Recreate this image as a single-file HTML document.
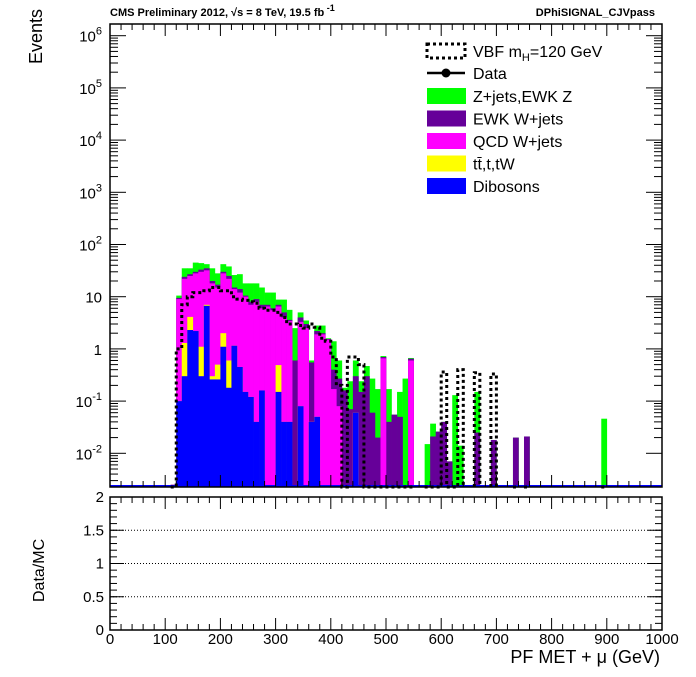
<!DOCTYPE html>
<html><head><meta charset="utf-8"><style>
body{margin:0;background:#fff;}
svg text{font-family:"Liberation Sans",sans-serif;}
</style></head><body>
<svg id="c" width="696" height="672" xmlns="http://www.w3.org/2000/svg"></svg>
<script>
// bin low edges (GeV), width 10
const bins=[110,120,130,140,150,160,170,180,190,200,210,220,230,240,250,260,270,280,290,300,310,320,330,340,350,360,370,380,390,400,410,420,430,440,450,460,470,480,490,500,510,520,530,540,570,580,590,600,610,620,630,660,690,730,750,890];
// cumulative stack tops per bin
const dibosonTop=[0,0.1,0.3,2.3,2.2,0.3,6.7,0.26,0.26,1.1,0.18,1.15,0.45,0.15,0.12,0.04,0.16,0,0,0.15,0.04,0.04,0,0.08,0,0.04,0.05,0,0,0,0,0,0,0.06,0,0,0,0,0,0,0,0,0,0,0,0,0,0,0,0,0,0,0,0,0,0];
const ttbarTop=[0,0.1,1.3,4.1,2.2,1.1,7,0.3,0.5,2,0.6,1.15,0.45,0.15,0.12,0.04,0.16,0,0,0.49,0.04,0.04,0,0.08,0,0.04,0.05,0,0,0,0,0,0,0.06,0,0,0,0,0,0,0,0,0,0,0,0,0,0,0,0,0,0,0,0,0,0];
const qcdWTop=[0.0025,9,22,25,28,30,32,18,15,28,22,14,12,10,7,8,6,6.5,5.5,6.5,4,3.4,0,3.3,2.5,0.04,1.9,1.9,1.5,0.17,0.08,0,0,0.06,0,0,0,0,0.66,0,0,0,0,0.6,0,0,0,0,0,0,0,0,0,0,0,0];
const ewkWTop=[0.0025,9.5,24,27,30,33,35,20,17,30,25,15,14,10.5,8,9,7,7,6,7,5,3.6,0.6,4,3,0.55,2.2,2.0,1.55,0.4,0.27,0.16,0.07,0.3,0.15,0.3,0.06,0.02,0.7,0.04,0.055,0.05,0,0.65,0,0.021,0.026,0.04,0.007,0,0,0.025,0.018,0.02,0.021,0];
const zjetsTop=[0.0025,10.5,35,35,45,44,42,35,28,42,38,26,27,18,18,18,15,12,12,8.8,8.8,5.6,2.5,5,3.5,0.6,2.8,2.8,1.6,1.4,0.6,0.18,0.24,0.6,0.24,0.47,0.27,0.17,0.73,0.17,0.055,0.15,0.27,0.67,0.015,0.037,0.026,0.04,0.007,0.13,0.014,0.15,0.018,0.02,0.021,0.046];
const vbf=[0,1,7,10,12,12,13,15,15,13,13,10,9,8.5,8,7.5,6,5.5,5.5,5,4,3,3,2.8,2.5,3,2.6,1.6,1.4,0.7,0.2,0,0.7,0.7,0.5,0,0,0,0,0,0,0,0,0,0,0,0,0.36,0,0,0.4,0.35,0.33,0,0,0];
const yTicks=[6,5,4,3,2,1,0,-1,-2];
const xTicks=[0,100,200,300,400,500,600,700,800,900,1000];
const ratioTicks=[0,0.5,1,1.5,2];

const NS="http://www.w3.org/2000/svg";
const svg=document.getElementById('c');
const L=110,R=662,T=24,B=487,RT=497,RB=630;
const X=g=>L+(g/1000)*(R-L);
const Ylog=v=>{const lv=Math.log10(Math.max(v,1e-4));return Math.min(B,35.7+(6-lv)*52.2);};
const YR=v=>RB-(v/2)*(RB-RT);
function mk(tag,a,txt){const e=document.createElementNS(NS,tag);for(const k in a)e.setAttribute(k,a[k]);if(txt!==undefined)e.textContent=txt;svg.appendChild(e);return e;}

const layers=[[zjetsTop,'#00ff00','zjets'],[ewkWTop,'#660099','ewk-wjets'],[qcdWTop,'#ff00ff','qcd-wjets'],[ttbarTop,'#ffff00','ttbar'],[dibosonTop,'#0000ff','dibosons']];
layers.forEach(([arr,col,nm])=>{
  bins.forEach((g,i)=>{
    if(arr[i]<=0)return;
    const y=Ylog(arr[i]);
    const r=mk('rect',{x:X(g),y:y,width:X(g+10)-X(g)+0.3,height:B-y,fill:col});
    
    
  });
});
let bl=mk('line',{x1:L,y1:B-1,x2:R,y2:B-1,stroke:'#0000ff','stroke-width':2});

let d='';
bins.forEach((g,i)=>{
  const y=vbf[i]>0?Ylog(vbf[i]):B;
  const contiguous=i>0&&bins[i-1]+10===g;
  if(!contiguous){d+=`M${X(g)},${B}`;}
  d+=`L${X(g)},${y}L${X(g+10)},${y}`;
  const nxt=i+1<bins.length&&bins[i+1]===g+10;
  if(!nxt)d+=`L${X(g+10)},${B}`;
});
let vp=mk('path',{d:d,fill:'none',stroke:'#000','stroke-width':3,'stroke-dasharray':'3,3'});


[[T,B,'main-frame'],[RT,RB,'ratio-frame']].forEach(([t,b,n])=>{
  const f=mk('rect',{x:L,y:t,width:R-L,height:b-t,fill:'none',stroke:'#000','stroke-width':1.5});
  
});
yTicks.forEach(p=>{
  const y=Ylog(Math.pow(10,p));
  mk('line',{x1:L,y1:y,x2:L+16,y2:y,stroke:'#000'});
  mk('line',{x1:R,y1:y,x2:R-16,y2:y,stroke:'#000'});
  for(let k=2;k<10;k++){const ym=Ylog(k*Math.pow(10,p));if(ym<T)continue;
    mk('line',{x1:L,y1:ym,x2:L+8,y2:ym,stroke:'#000'});mk('line',{x1:R,y1:ym,x2:R-8,y2:ym,stroke:'#000'});}
  for(let k=2;k<10;k++){const ym=Ylog(k*Math.pow(10,p-1));if(p===-2&&ym<B){mk('line',{x1:L,y1:ym,x2:L+8,y2:ym,stroke:'#000'});}}
  let lab;
  if(p===1)lab=mk('text',{x:L-8,y:y+6,'font-size':15,'text-anchor':'end'},'10');
  else if(p===0)lab=mk('text',{x:L-8,y:y+6,'font-size':15,'text-anchor':'end'},'1');
  else{lab=mk('text',{x:L-8,y:y+6,'font-size':15,'text-anchor':'end'});
    lab.innerHTML='10<tspan dy="-7" font-size="11">'+p+'</tspan>';}
  
});
for(let g=0;g<=1000;g+=20){const big=g%100===0;
  [[B,-1],[T,1],[RB,-1],[RT,1]].forEach(([y0,s])=>mk('line',{x1:X(g),y1:y0,x2:X(g),y2:y0+s*(big?12:6),stroke:'#000'}));}
xTicks.forEach(g=>{const t=mk('text',{x:X(g),y:644,'font-size':15,'text-anchor':'middle'},String(g));
  });
ratioTicks.forEach(v=>{const y=YR(v);
  const t=mk('text',{x:L-6,y:y+5,'font-size':15,'text-anchor':'end'},String(v));
  
  mk('line',{x1:L,y1:y,x2:L+14,y2:y,stroke:'#000'});mk('line',{x1:R,y1:y,x2:R-14,y2:y,stroke:'#000'});
  if(v>0&&v<2){const gl=mk('line',{x1:L,y1:y,x2:R,y2:y,stroke:'#000','stroke-dasharray':'1,2'});
    }
});
for(let v=0.1;v<2;v+=0.1){const y=YR(v);mk('line',{x1:L,y1:y,x2:L+7,y2:y,stroke:'#000'});mk('line',{x1:R,y1:y,x2:R-7,y2:y,stroke:'#000'});}

let t1=mk('text',{x:110,y:16,'font-size':11,'font-weight':'bold'});
t1.innerHTML='CMS Preliminary 2012,   √s = 8 TeV, 19.5 fb<tspan dy="-5" font-size="9"> -1</tspan>';

let t2=mk('text',{x:655,y:16,'font-size':11,'font-weight':'bold','text-anchor':'end'},'DPhiSIGNAL_CJVpass');

let ev=mk('text',{x:42,y:64,'font-size':18,transform:'rotate(-90 42 64)'},'Events');

let dm=mk('text',{x:44,y:602,'font-size':16,transform:'rotate(-90 44 602)'},'Data/MC');

let xt=mk('text',{x:660,y:663,'font-size':18,'text-anchor':'end'},'PF MET + μ (GeV)');


const legNames=['Z+jets,EWK Z','EWK W+jets','QCD W+jets','tt̄,t,tW','Dibosons'];
const legCols=['#00ff00','#660099','#ff00ff','#ffff00','#0000ff'];
let lv=mk('rect',{x:427,y:44,width:38,height:14,fill:'none',stroke:'#000','stroke-width':3,'stroke-dasharray':'3,3'});

let lvt=mk('text',{x:473,y:57,'font-size':16});lvt.innerHTML='VBF m<tspan dy="4" font-size="11">H</tspan><tspan dy="-4">=120 GeV</tspan>';

mk('line',{x1:427,y1:73,x2:465,y2:73,stroke:'#000','stroke-width':2.5});
mk('circle',{cx:446,cy:73,r:4.5,fill:'#000'});
let ld=mk('text',{x:473,y:79,'font-size':16},'Data');
legNames.forEach((n,i)=>{const y=88+i*22.5;
  const r=mk('rect',{x:427,y:y,width:39,height:16,fill:legCols[i]});
  
  const t=mk('text',{x:473,y:y+14,'font-size':16},n);
  });
</script>
</body></html>
